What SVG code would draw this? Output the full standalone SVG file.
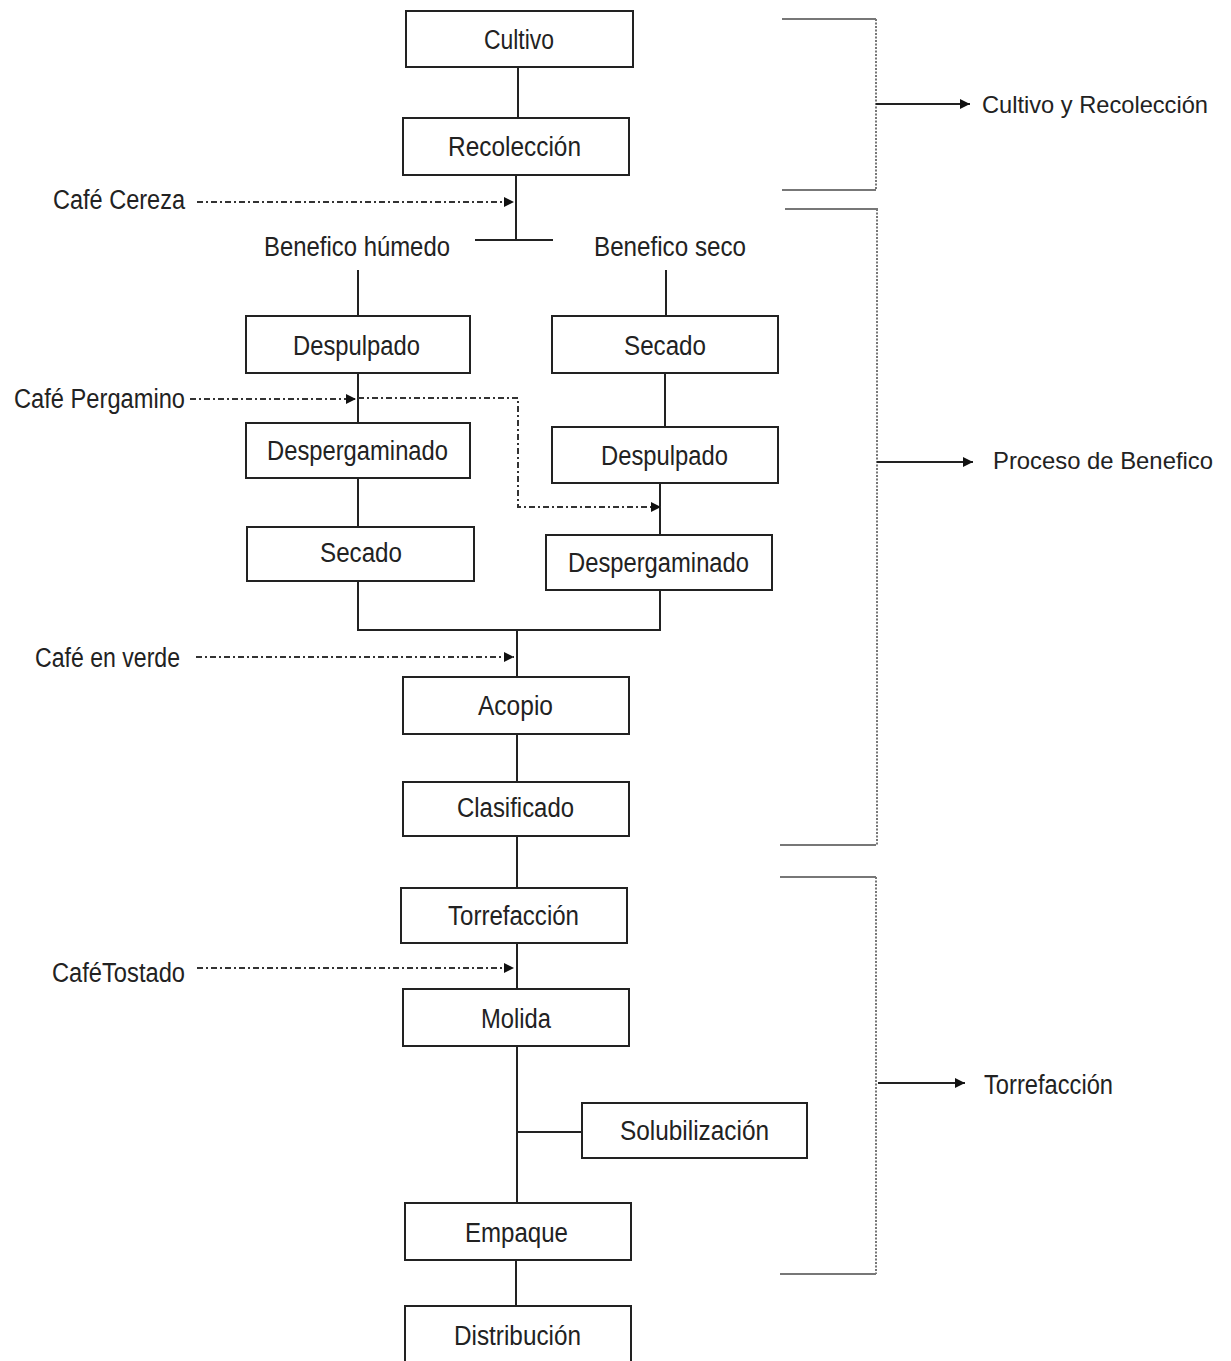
<svg xmlns="http://www.w3.org/2000/svg" width="1231" height="1361" viewBox="0 0 1231 1361">
<defs>
<marker id="ah" viewBox="0 0 10 10" refX="10" refY="5" markerWidth="10" markerHeight="10" markerUnits="userSpaceOnUse" orient="auto">
<path d="M0,0 L10,5 L0,10 z" fill="#111"/>
</marker>
<style>
.box{fill:#fff;stroke:#222;stroke-width:2}
.t{font-family:"Liberation Sans",Arial,sans-serif;font-size:27px;fill:#222}
.ts{font-family:"Liberation Sans",Arial,sans-serif;font-size:24px;fill:#222}
.ln{stroke:#222;stroke-width:2;fill:none}
.dd{stroke:#333;stroke-width:2;fill:none;stroke-dasharray:6 3 2 3}
.br{stroke:#777;stroke-width:2;fill:none}
.bv{stroke:#777;stroke-width:2;fill:none;stroke-dasharray:2 1.5}
</style>
</defs>
<rect width="1231" height="1361" fill="#fff"/>
<g id="connectors">
<line class="ln" x1="518" y1="67" x2="518" y2="118"/>
<line class="ln" x1="516" y1="175" x2="516" y2="240"/>
<line class="ln" x1="475" y1="240" x2="553" y2="240"/>
<line class="ln" x1="358" y1="270" x2="358" y2="316"/>
<line class="ln" x1="666" y1="270" x2="666" y2="316"/>
<line class="ln" x1="358" y1="373" x2="358" y2="423"/>
<line class="ln" x1="358" y1="478" x2="358" y2="527"/>
<line class="ln" x1="665" y1="373" x2="665" y2="427"/>
<line class="ln" x1="660" y1="483" x2="660" y2="535"/>
<polyline class="ln" points="358,581 358,630 660,630 660,590"/>
<line class="ln" x1="517" y1="630" x2="517" y2="677"/>
<line class="ln" x1="517" y1="734" x2="517" y2="782"/>
<line class="ln" x1="517" y1="836" x2="517" y2="888"/>
<line class="ln" x1="517" y1="943" x2="517" y2="989"/>
<line class="ln" x1="517" y1="1046" x2="517" y2="1203"/>
<line class="ln" x1="517" y1="1132" x2="582" y2="1132"/>
<line class="ln" x1="516" y1="1260" x2="516" y2="1306"/>
<line class="dd" x1="197" y1="202" x2="514" y2="202" marker-end="url(#ah)"/>
<line class="dd" x1="190" y1="399" x2="356" y2="399" marker-end="url(#ah)"/>
<polyline class="dd" points="358,398 518,398 518,507 661,507" marker-end="url(#ah)"/>
<line class="dd" x1="196" y1="657" x2="514" y2="657" marker-end="url(#ah)"/>
<line class="dd" x1="197" y1="968" x2="514" y2="968" marker-end="url(#ah)"/>
<polyline class="br" points="782,19 876,19"/>
<polyline class="br" points="782,190 876,190"/>
<line class="bv" x1="876" y1="19" x2="876" y2="190"/>
<line class="ln" x1="876" y1="104" x2="970" y2="104" stroke-width="1.5" marker-end="url(#ah)"/>
<polyline class="br" points="785,209 878,209"/>
<polyline class="br" points="780,845 876,845"/>
<line class="bv" x1="877" y1="209" x2="877" y2="845"/>
<line class="ln" x1="877" y1="462" x2="973" y2="462" stroke-width="1.5" marker-end="url(#ah)"/>
<polyline class="br" points="780,877 876,877"/>
<polyline class="br" points="780,1274 876,1274"/>
<line class="bv" x1="876" y1="877" x2="876" y2="1274"/>
<line class="ln" x1="878" y1="1083" x2="965" y2="1083" stroke-width="1.5" marker-end="url(#ah)"/>
</g>
<g id="n-cultivo"><rect class="box" x="406" y="11" width="227" height="56"/><text class="t" x="484" y="49" textLength="70" lengthAdjust="spacingAndGlyphs">Cultivo</text></g>
<g id="n-recoleccion"><rect class="box" x="403" y="118" width="226" height="57"/><text class="t" x="448" y="156" textLength="133" lengthAdjust="spacingAndGlyphs">Recolección</text></g>
<g id="l-cereza"><text class="t" x="53" y="209" textLength="132" lengthAdjust="spacingAndGlyphs">Café Cereza</text></g>
<g id="l-humedo"><text class="t" x="264" y="256" textLength="186" lengthAdjust="spacingAndGlyphs">Benefico húmedo</text></g>
<g id="l-seco"><text class="t" x="594" y="256" textLength="152" lengthAdjust="spacingAndGlyphs">Benefico seco</text></g>
<g id="n-despulpado-l"><rect class="box" x="246" y="316" width="224" height="57"/><text class="t" x="293" y="355" textLength="127" lengthAdjust="spacingAndGlyphs">Despulpado</text></g>
<g id="n-secado-r"><rect class="box" x="552" y="316" width="226" height="57"/><text class="t" x="624" y="355" textLength="82" lengthAdjust="spacingAndGlyphs">Secado</text></g>
<g id="l-pergamino"><text class="t" x="14" y="408" textLength="171" lengthAdjust="spacingAndGlyphs">Café Pergamino</text></g>
<g id="n-despergaminado-l"><rect class="box" x="246" y="423" width="224" height="55"/><text class="t" x="267" y="460" textLength="181" lengthAdjust="spacingAndGlyphs">Despergaminado</text></g>
<g id="n-despulpado-r"><rect class="box" x="552" y="427" width="226" height="56"/><text class="t" x="601" y="465" textLength="127" lengthAdjust="spacingAndGlyphs">Despulpado</text></g>
<g id="n-secado-l"><rect class="box" x="247" y="527" width="227" height="54"/><text class="t" x="320" y="562" textLength="82" lengthAdjust="spacingAndGlyphs">Secado</text></g>
<g id="n-despergaminado-r"><rect class="box" x="546" y="535" width="226" height="55"/><text class="t" x="568" y="572" textLength="181" lengthAdjust="spacingAndGlyphs">Despergaminado</text></g>
<g id="l-verde"><text class="t" x="35" y="667" textLength="145" lengthAdjust="spacingAndGlyphs">Café en verde</text></g>
<g id="n-acopio"><rect class="box" x="403" y="677" width="226" height="57"/><text class="t" x="478" y="715" textLength="75" lengthAdjust="spacingAndGlyphs">Acopio</text></g>
<g id="n-clasificado"><rect class="box" x="403" y="782" width="226" height="54"/><text class="t" x="457" y="817" textLength="117" lengthAdjust="spacingAndGlyphs">Clasificado</text></g>
<g id="n-torrefaccion"><rect class="box" x="401" y="888" width="226" height="55"/><text class="t" x="448" y="925" textLength="131" lengthAdjust="spacingAndGlyphs">Torrefacción</text></g>
<g id="l-tostado"><text class="t" x="52" y="982" textLength="133" lengthAdjust="spacingAndGlyphs">CaféTostado</text></g>
<g id="n-molida"><rect class="box" x="403" y="989" width="226" height="57"/><text class="t" x="481" y="1028" textLength="70" lengthAdjust="spacingAndGlyphs">Molida</text></g>
<g id="n-solubilizacion"><rect class="box" x="582" y="1103" width="225" height="55"/><text class="t" x="620" y="1140" textLength="149" lengthAdjust="spacingAndGlyphs">Solubilización</text></g>
<g id="n-empaque"><rect class="box" x="405" y="1203" width="226" height="57"/><text class="t" x="465" y="1242" textLength="103" lengthAdjust="spacingAndGlyphs">Empaque</text></g>
<g id="n-distribucion"><rect class="box" x="405" y="1306" width="226" height="70"/><text class="t" x="454" y="1345" textLength="127" lengthAdjust="spacingAndGlyphs">Distribución</text></g>
<g id="l-cultivo-recoleccion"><text class="ts" x="982" y="113" textLength="226" lengthAdjust="spacingAndGlyphs">Cultivo y Recolección</text></g>
<g id="l-proceso"><text class="ts" x="993" y="469" textLength="220" lengthAdjust="spacingAndGlyphs">Proceso de Benefico</text></g>
<g id="l-torrefaccion"><text class="t" x="984" y="1094" textLength="129" lengthAdjust="spacingAndGlyphs">Torrefacción</text></g>
</svg>
